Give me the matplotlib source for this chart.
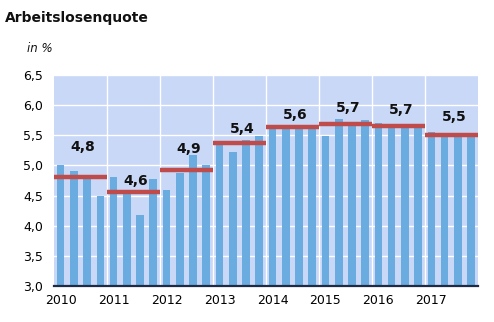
import matplotlib
matplotlib.use("Agg")
import matplotlib.pyplot as plt
import numpy as np

years = ["2010", "2011", "2012", "2013", "2014", "2015", "2016", "2017"]
quarterly = [5.0, 4.9, 4.8, 4.5,
             4.8, 4.55, 4.18, 4.77,
             4.6, 4.88, 5.17, 5.0,
             5.34, 5.22, 5.42, 5.49,
             5.6, 5.64, 5.64, 5.64,
             5.48, 5.77, 5.72, 5.75,
             5.71, 5.65, 5.65, 5.63,
             5.55, 5.48, 5.48, 5.48]
annual = [4.81, 4.56, 4.92, 5.37, 5.64, 5.68, 5.66, 5.5]
annual_labels = ["4,8", "4,6", "4,9", "5,4", "5,6", "5,7", "5,7", "5,5"]
label_y = [5.31, 4.74, 5.27, 5.6, 5.84, 5.95, 5.92, 5.8]
yticks = [3.0, 3.5, 4.0, 4.5, 5.0, 5.5, 6.0, 6.5]
ytick_labels = ["3,0", "3,5", "4,0", "4,5", "5,0", "5,5", "6,0", "6,5"]

plt.rcParams['font.family'] = ['DejaVu Sans']
fig = plt.figure(figsize=(4.94, 3.22), dpi=100)
ax = fig.add_axes([54/494, 1-286/322, (477.7-54)/494, (286-75)/322])
ax.set_facecolor("#c9d8f7")

n = len(quarterly)
x = np.arange(n) + 0.5
ax.bar(x, np.array(quarterly) - 3.0, bottom=3.0, width=0.58,
       color="#6aacdf", zorder=3)

for i, (a, lab, ly) in enumerate(zip(annual, annual_labels, label_y)):
    ax.plot([i*4, i*4+4], [a, a], color="#bf4b4a", lw=3.2,
            solid_capstyle="butt", zorder=4)
    ax.text(i*4+2.2, ly, lab, ha="center", va="center", fontsize=10,
            fontweight="bold", color="#111111", zorder=5)

ax.set_xlim(0, n)
ax.set_ylim(3.0, 6.5)
ax.set_yticks(yticks)
ax.set_yticklabels(ytick_labels, fontsize=9)
ax.set_xticks([i*4 + 0.5 for i in range(len(years))])
ax.set_xticklabels(years, fontsize=9)
ax.tick_params(length=0, pad=8)
ax.tick_params(axis="x", pad=6)

for yv in yticks[1:]:
    ax.axhline(yv, color="white", lw=1.0, zorder=1)
for i in range(1, len(years)):
    ax.axvline(i*4, color="white", lw=1.0, zorder=1)

for s in ["top", "right", "left"]:
    ax.spines[s].set_visible(False)
ax.spines["bottom"].set_color("#1f2a44")
ax.spines["bottom"].set_linewidth(1.6)
ax.spines["bottom"].set_zorder(6)

fig.text(5/494, 1-18/322, "Arbeitslosenquote", fontsize=10, fontweight="bold",
         ha="left", va="center", color="#111111")
fig.text(27/494, 1-49/322, "in %", fontsize=8.5, style="italic",
         ha="left", va="center", color="#111111")

fig.savefig("out.png", dpi=100)
